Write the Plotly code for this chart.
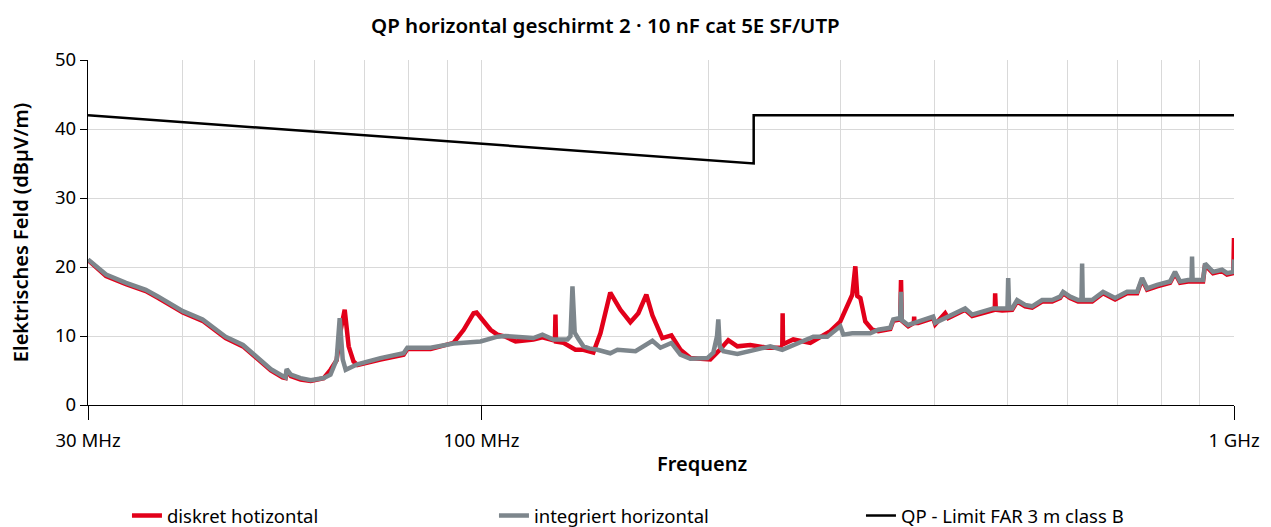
import plotly.graph_objects as go

# ---- data (frequency in MHz, field strength in dBµV/m) ----
grey_f = [30.0, 31.7, 33.7, 35.8, 37.2, 40.1, 42.6, 45.7, 48.2, 50.6, 52.5, 54.4, 54.9, 55.1, 55.8,
          57.5, 59.3, 61.7, 63.0, 64.2, 64.8, 65.4, 66.0, 68.4, 73.4, 78.8, 79.7, 85.6, 91.8, 99.7,
          105.0, 107.6, 117.2, 120.5, 124.6, 130.1, 131.3, 132.1, 133.0, 134.5, 136.6, 139.1, 142.6,
          148.3, 151.6, 160.2, 164.1, 168.7, 172.9, 178.8, 183.8, 189.5, 199.6, 203.3, 205.6, 206.4,
          207.3, 209.6, 218.8, 232.6, 242.0, 251.0, 257.3, 276.0, 288.1, 299.8, 302.6, 311.0, 328.6,
          336.7, 349.3, 352.5, 360.1, 361.0, 361.8, 369.0, 380.4, 398.3, 400.8, 417.0, 439.3, 448.8,
          467.0, 478.6, 491.9, 500.0, 501.1, 502.5, 507.2, 515.0, 527.8, 539.2, 555.9, 573.2, 587.4,
          592.8, 605.6, 620.6, 627.0, 628.3, 629.5, 647.8, 669.9, 680.3, 695.0, 721.0, 743.4, 754.8,
          766.5, 790.3, 822.2, 834.9, 847.8, 868.8, 878.0, 879.5, 881.0, 909.6, 915.2, 937.8, 964.0,
          978.8, 998.0, 1000.0]
grey_db = [21.1, 18.9, 17.7, 16.7, 15.7, 13.6, 12.4, 9.9, 8.7, 6.8, 5.2, 4.2, 4.0, 5.2, 4.4,
           3.9, 3.6, 3.9, 4.4, 6.6, 12.6, 6.6, 5.1, 5.9, 6.8, 7.5, 8.3, 8.3, 8.9, 9.2,
           9.9, 10.0, 9.7, 10.2, 9.5, 9.5, 10.0, 17.2, 10.5, 9.6, 8.5, 8.2, 8.0,
           7.5, 8.0, 7.8, 8.5, 9.3, 8.3, 9.0, 7.3, 6.7, 6.8, 7.6, 10.0, 12.4,
           8.5, 7.8, 7.4, 8.0, 8.5, 8.0, 8.5, 9.9, 9.9, 11.4, 10.2, 10.4, 10.4,
           10.9, 11.2, 12.4, 12.6, 16.4, 12.3, 11.6, 12.1, 12.8, 11.9, 12.8, 14.0, 13.1,
           13.6, 14.0, 14.0, 14.0, 18.4, 14.0, 14.0, 15.2, 14.5, 14.3, 15.2, 15.2, 15.7,
           16.4, 15.7, 15.2, 15.2, 20.5, 15.2, 15.2, 16.4, 16.0, 15.5, 16.4, 16.4, 18.4,
           16.9, 17.4, 17.9, 19.3, 17.9, 18.1, 18.1, 21.5, 18.1, 18.1, 20.5, 19.3, 19.6,
           19.1, 19.3, 21.1]

red_f = [30.0, 31.7, 33.7, 35.8, 37.2, 40.1, 42.6, 45.7, 48.2, 50.6, 52.5, 54.4, 54.9, 55.1, 55.8,
         57.5, 59.3, 61.7, 63.0, 64.2, 65.0, 65.8, 66.6, 67.6, 68.4, 73.4, 78.8, 79.7, 85.6, 91.8,
         94.7, 97.6, 98.5, 102.8, 105.0, 107.6, 111.0, 117.2, 120.5, 124.6, 125.2, 125.4, 125.6,
         128.5, 131.3, 133.3, 136.6, 140.8, 143.9, 148.3, 153.0, 157.7, 161.6, 165.6, 168.7, 173.9,
         178.8, 183.8, 189.5, 201.4, 207.4, 212.8, 218.8, 227.6, 239.8, 251.0, 251.3, 251.6, 259.6,
         273.5, 290.8, 299.8, 311.0, 313.9, 315.8, 318.8, 323.6, 328.6, 330.6, 336.7, 349.3, 352.5,
         360.1, 361.0, 361.8, 369.0, 375.5, 375.8, 376.2, 380.4, 398.3, 400.8, 413.2, 417.0, 439.3,
         448.8, 467.0, 478.6, 481.0, 481.5, 482.5, 491.9, 501.1, 507.2, 515.0, 527.8, 539.2, 555.9,
         573.2, 587.4, 592.8, 605.6, 620.6, 647.8, 669.9, 680.3, 695.0, 721.0, 743.4, 754.8, 766.5,
         790.3, 822.2, 834.9, 847.8, 868.8, 909.6, 915.2, 937.8, 964.0, 978.8, 998.0, 1000.0]
red_db = [21.0, 18.7, 17.5, 16.5, 15.5, 13.4, 12.2, 9.7, 8.5, 6.6, 5.0, 4.0, 3.9, 5.0, 4.2,
          3.7, 3.5, 3.9, 5.1, 6.5, 10.9, 13.8, 8.5, 6.3, 5.8, 6.6, 7.3, 8.1, 8.1, 9.0,
          10.9, 13.3, 13.4, 10.9, 10.2, 9.9, 9.2, 9.5, 9.8, 9.4, 9.4, 13.1, 9.2,
          9.0, 8.5, 8.0, 8.0, 7.6, 10.4, 16.3, 13.8, 12.0, 13.3, 16.0, 13.0, 9.7,
          10.1, 8.0, 6.8, 6.6, 8.0, 9.4, 8.5, 8.7, 8.3, 8.3, 13.3, 8.8, 9.5,
          9.0, 10.7, 12.1, 16.0, 20.1, 15.8, 15.5, 12.1, 11.4, 10.9, 10.7, 11.0, 12.2,
          12.4, 18.1, 12.2, 11.4, 11.9, 12.8, 11.9, 11.9, 12.6, 11.7, 13.3, 12.6, 13.8,
          12.9, 13.4, 13.8, 13.8, 16.2, 13.8, 13.7, 13.8, 13.8, 15.0, 14.3, 14.1, 15.0,
          15.0, 15.5, 16.2, 15.5, 15.0, 15.0, 16.2, 15.8, 15.3, 16.2, 16.2, 18.2, 16.7,
          17.2, 17.7, 19.1, 17.7, 17.9, 17.9, 20.3, 19.1, 19.4, 18.9, 19.1, 24.2]

limit_f = [30, 230, 230, 1000]
limit_db = [42, 35, 42, 42]

major_ticks = [30, 100, 1000]
major_labels = ["30 MHz", "100 MHz", "1 GHz"]
minor_ticks = [40, 50, 60, 70, 80, 90, 200, 300, 400, 500, 600, 700, 800, 900]

FONT = "Noto Sans"
RED = "#e2001a"
GREY = "#7d868c"

fig = go.Figure()
fig.add_trace(go.Scatter(x=red_f, y=red_db, mode="lines", name="diskret hotizontal",
                         line=dict(color=RED, width=4.5)))
fig.add_trace(go.Scatter(x=grey_f, y=grey_db, mode="lines", name="integriert horizontal",
                         line=dict(color=GREY, width=4.5)))
fig.add_trace(go.Scatter(x=limit_f, y=limit_db, mode="lines", name="QP - Limit FAR 3 m class B",
                         line=dict(color="black", width=2.5)))

# figure is slightly taller than the window: the legend is clipped at the bottom as in the reference
fig.update_layout(
    width=1271, height=560,
    margin=dict(l=88, r=37, t=60, b=155),
    paper_bgcolor="white", plot_bgcolor="white",
    font=dict(family=FONT, size=18, color="#000"),
    showlegend=True,
    legend=dict(orientation="h", x=0.034, xanchor="left", y=-0.3217, yanchor="middle",
                entrywidth=322, entrywidthmode="pixels", font=dict(size=18.5),
                traceorder="normal"),
    annotations=[
        dict(text="QP horizontal geschirmt 2 · 10 nF cat 5E SF/UTP", xref="paper", yref="paper",
             x=0.452, y=1.101, xanchor="center", yanchor="middle", showarrow=False,
             font=dict(size=20.5, family=FONT, weight=600)),
        dict(text="Frequenz", xref="paper", yref="paper", x=0.536, y=-0.171,
             xanchor="center", yanchor="middle", showarrow=False,
             font=dict(size=20, family=FONT, weight=600)),
    ],
)

fig.update_xaxes(
    type="log", range=[1.4771, 3.0],
    tickmode="array", tickvals=major_ticks, ticktext=major_labels,
    ticks="outside", ticklen=14, tickwidth=1.3, tickcolor="#000",
    ticklabelstandoff=5,
    showgrid=True, gridcolor="#d9d9d9", gridwidth=1,
    showline=True, linecolor="#000", linewidth=1.3,
    zeroline=False,
    minor=dict(tickvals=minor_ticks, showgrid=True, gridcolor="#d9d9d9", gridwidth=1, ticklen=0),
    tickfont=dict(size=18.5),
)
fig.update_yaxes(
    range=[0, 50], tickmode="linear", tick0=0, dtick=10,
    ticks="outside", ticklen=7, tickwidth=1, tickcolor="#000",
    showgrid=True, gridcolor="#d9d9d9", gridwidth=1,
    showline=True, linecolor="#000", linewidth=1.3,
    zeroline=False,
    title=dict(text="Elektrisches Feld (dBµV/m)", font=dict(size=20, weight=600), standoff=20),
    tickfont=dict(size=18.5),
)

fig.write_html(
    "out.html",
    config={"displayModeBar": False},
    post_script="document.body.style.margin='0';document.body.style.overflow='hidden';"
                "document.documentElement.style.overflow='hidden';",
)
